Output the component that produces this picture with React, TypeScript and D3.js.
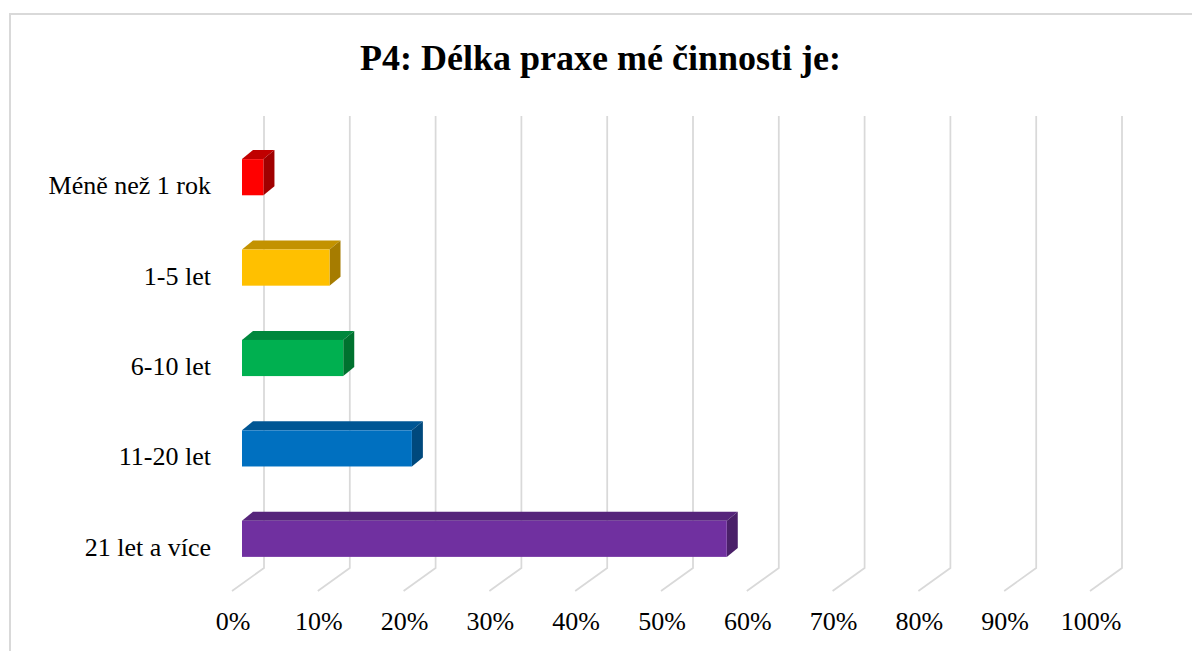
import * as d3 from "d3";

// rozměry obrázku
const width = 1192;
const height = 651;

// data grafu
const title = "P4: Délka praxe mé činnosti je:";
const categories = ["Méně než 1 rok", "1-5 let", "6-10 let", "11-20 let", "21 let a více"];
const values = [2.5, 10.2, 11.8, 19.8, 56.5];
const tickValues = [0, 10, 20, 30, 40, 50, 60, 70, 80, 90, 100];

// barvy sloupců (čelo, vrch, bok)
const frontColors = ["#FF0000", "#FFC000", "#00B050", "#0070C0", "#7030A0"];
const topColors = ["#C00000", "#C39200", "#00873D", "#005694", "#56257B"];
const sideColors = ["#A00000", "#A67C00", "#00722F", "#00497D", "#4A2069"];

// 3D posuny: podlaha (zadní stěna -> přední hrana) a hloubka sloupce
const floorDx = -32;
const floorDy = 23;
const barPlaneDx = -22;
const barPlaneDy = 16;
const barDepthDx = 11;
const barDepthDy = -9;

const wallTop = 116;
const wallBottom = 568;

const x = d3.scaleLinear().domain([0, 100]).range([264, 1122]);
const y = d3.scaleBand<string>()
    .domain(categories)
    .range([wallTop, wallBottom])
    .paddingInner(0.6)
    .paddingOuter(0.3);

const font = "'Liberation Serif', 'Times New Roman', serif";
const gridColor = "#D9D9D9";

export default function App() {
    return (
        <svg
            width={width}
            height={height}
            style={{ position: "absolute", left: 0, top: 0, background: "#fff" }}
        >
            <rect x={10} y={14} width={1300} height={800} fill="#fff" stroke={gridColor} strokeWidth={2} />

            <text
                x={600.5}
                y={70}
                textAnchor="middle"
                fontFamily={font}
                fontWeight="bold"
                fontSize={36}
            >
                {title}
            </text>

            {/* mřížka: svislé čáry na zadní stěně a šikmé na podlaze */}
            <g stroke={gridColor} strokeWidth={1.75} fill="none">
                {tickValues.map(t => (
                    <path
                        key={t}
                        d={`M${x(t)},${wallTop}V${wallBottom}l${floorDx},${floorDy}`}
                    />
                ))}
            </g>

            {/* popisky osy x */}
            <g fontFamily={font} fontSize={26} textAnchor="middle">
                {tickValues.map(t => (
                    <text key={t} x={x(t) + floorDx + 1} y={630}>{`${t}%`}</text>
                ))}
            </g>

            {/* sloupce */}
            {categories.map((c, i) => {
                const x0 = x(0) + barPlaneDx;
                const x1 = x(values[i]) + barPlaneDx;
                const yt = (y(c) ?? 0) + barPlaneDy;
                const yb = yt + y.bandwidth();
                const topFace = [
                    [x0, yt], [x1, yt], [x1 + barDepthDx, yt + barDepthDy], [x0 + barDepthDx, yt + barDepthDy],
                ];
                const sideFace = [
                    [x1, yt], [x1 + barDepthDx, yt + barDepthDy], [x1 + barDepthDx, yb + barDepthDy], [x1, yb],
                ];
                return (
                    <g key={c}>
                        <polygon points={topFace.join(" ")} fill={topColors[i]} />
                        <polygon points={sideFace.join(" ")} fill={sideColors[i]} />
                        <rect x={x0} y={yt} width={x1 - x0} height={yb - yt} fill={frontColors[i]} />
                        <text
                            x={211}
                            y={yb - 1}
                            textAnchor="end"
                            fontFamily={font}
                            fontSize={26}
                        >
                            {c}
                        </text>
                    </g>
                );
            })}
        </svg>
    );
}
